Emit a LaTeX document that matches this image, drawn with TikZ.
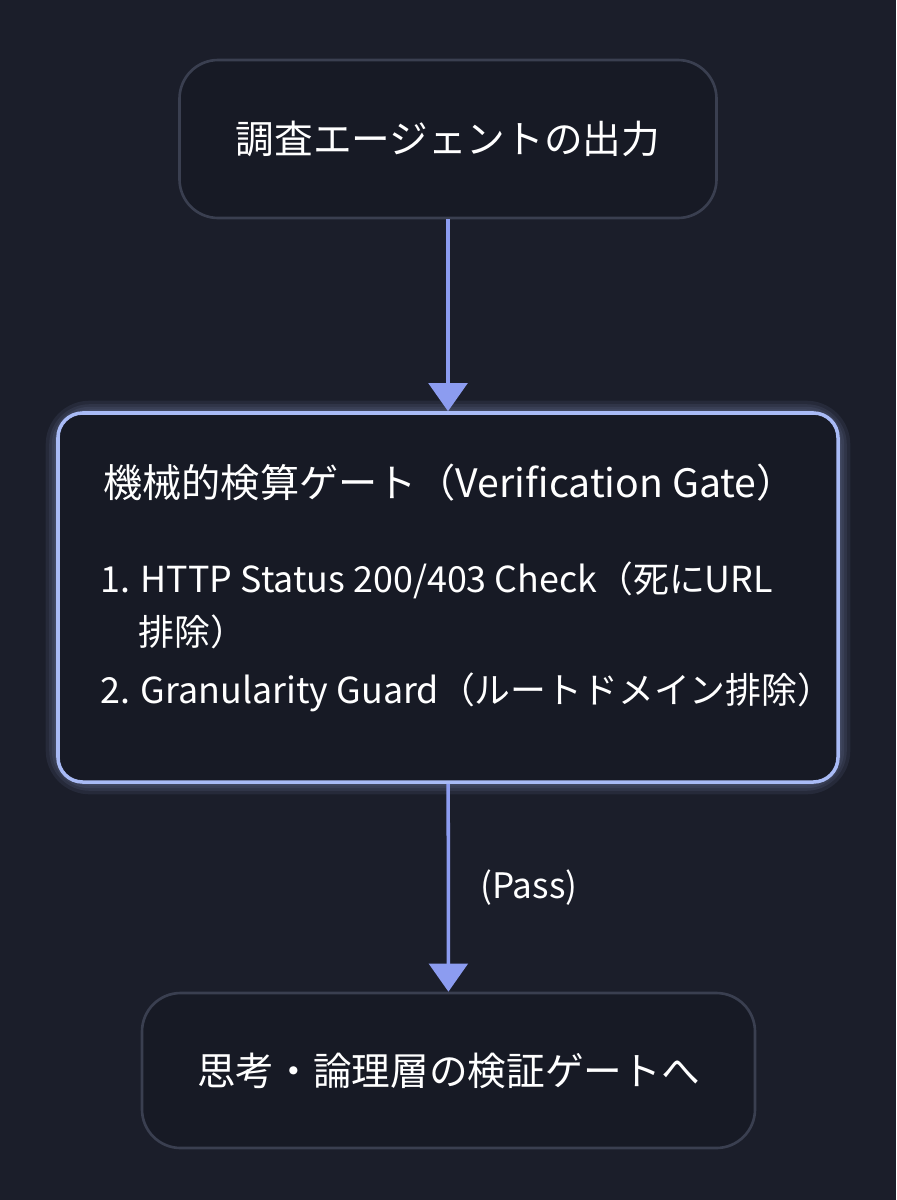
\documentclass[tikz,border=0pt]{standalone}
\usepackage{fontspec}
\setmainfont{Noto Sans CJK JP}
\usetikzlibrary{positioning,arrows.meta}
\definecolor{bgcol}{HTML}{1B1E2A}
\definecolor{boxfill}{HTML}{171A25}
\definecolor{boxline}{HTML}{3A3F50}
\definecolor{gateline}{HTML}{A9BBF6}
\definecolor{arrowcol}{HTML}{8C9CF0}
\begin{document}
\begin{tikzpicture}[x=0.02cm,y=-0.02cm]
  \tikzstyle{stage}=[rectangle, rounded corners=22, draw=boxline, line width=1.5pt, fill=boxfill, text=white, font=\fontsize{22}{26}\selectfont]
  \tikzstyle{gate}=[rectangle, rounded corners=14, draw=gateline, line width=2pt, fill=boxfill]
  \tikzstyle{glow}=[rectangle, rounded corners=18, draw=gateline, draw opacity=0.08]
  \tikzstyle{txt}=[anchor=west, text=white, inner sep=0pt]
  \tikzstyle{connect}=[line width=2pt, draw=arrowcol, -{Triangle[width=22pt,length=16pt]}]

  \fill[bgcol] (0,0) rectangle (896,1200);
  \useasboundingbox (0,0) rectangle (896,1200);

  \node[stage, minimum width=537*0.02cm, minimum height=158*0.02cm] (output) at (448,139) {調査エージェントの出力};
  \foreach \w in {14,10,7,4}
    \draw[glow, line width=\w pt] (58,413) rectangle (838,782);
  \node[gate, minimum width=780*0.02cm, minimum height=369*0.02cm] (gatebox) at (448,597.5) {};
  \node[stage, minimum width=613*0.02cm, minimum height=155*0.02cm] (next) at (448.5,1070.5) {思考・論理層の検証ゲートへ};

  \node[txt, font=\fontsize{22.3}{26}\selectfont] (title) at (103,483) {機械的検算ゲート（Verification Gate）};
  \node[txt, font=\fontsize{20.4}{24}\selectfont] (item1) at (100,580) {1. HTTP Status 200/403 Check（死にURL};
  \node[txt, font=\fontsize{20.4}{24}\selectfont] (item1b) at (138,632) {排除）};
  \node[txt, font=\fontsize{20.4}{24}\selectfont] (item2) at (100,692) {2. Granularity Guard（ルートドメイン排除）};

  \draw[connect] (output) -- (gatebox);
  \draw[connect] (gatebox) -- (next) node[pos=0.5, right=14pt, text=white, font=\fontsize{20}{24}\selectfont] (pass) {(Pass)};
\end{tikzpicture}
\end{document}
